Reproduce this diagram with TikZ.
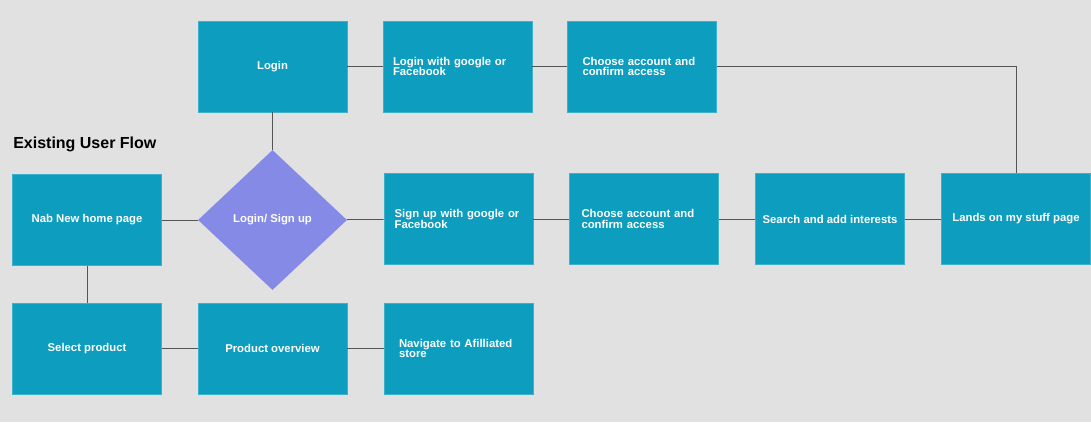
\documentclass[tikz,border=0pt]{standalone}
\usepackage{fontspec}
\setmainfont{Liberation Sans}
\usetikzlibrary{shapes.geometric, positioning}

\definecolor{pagebg}{HTML}{E1E1E1}
\definecolor{stepfill}{HTML}{0C9DBF}
\definecolor{stepedge}{HTML}{3DB0CC}
\definecolor{choicefill}{HTML}{858AE7}
\definecolor{linkgray}{HTML}{555555}

\begin{document}
\begin{tikzpicture}[
    x=0.75pt, y=-0.75pt, % one unit = one pixel of the reference
    stepbox/.style={draw=stepedge, line width=0.5pt, fill=stepfill, text=white,
        font=\bfseries\fontsize{8.5}{8}\selectfont,
        minimum width=111.75pt, minimum height=68.25pt, inner sep=0pt}, % plain box
    leftbox/.style={stepbox, align=left, text width=89.25pt, inner xsep=11.25pt}, % box with left text
    choice/.style={diamond, fill=choicefill, text=white, inner sep=0pt,
        font=\bfseries\fontsize{8.5}{8}\selectfont,
        minimum width=111.75pt, minimum height=105pt}, % decision
    link/.style={draw=linkgray, line width=0.6pt} % connector
]

    % Background and bounds
    \fill[pagebg] (0,0) rectangle (1091,422);
    \useasboundingbox (0,0) rectangle (1091,422);

    % Title
    \node[anchor=west, inner sep=0pt, font=\bfseries\fontsize{12}{14}\selectfont] (title) at (13,144) {Existing User Flow};

    % Top row (login)
    \node[stepbox] (login) at (272.5,66.5) {Login};
    \node[leftbox, inner xsep=7.5pt, text width=96.75pt] (logingoogle) at (457.5,66.5) {Login with google or\\Facebook};
    \node[leftbox] (chooselogin) at (642,66.5) {Choose account and\\confirm access};

    % Middle row (sign up)
    \node[stepbox] (home) at (87,220) {Nab New home page};
    \node[choice] (loginsignup) at (272.5,220) {Login/ Sign up};
    \node[leftbox, inner xsep=8pt, text width=95.75pt] (signupgoogle) at (458.5,219) {Sign up with google or\\Facebook};
    \node[leftbox, inner xsep=9pt, text width=93.75pt] (choosesignup) at (644,219) {Choose account and\\confirm access};
    \node[stepbox] (interests) at (830,219) {Search and add interests};
    \node[stepbox] (mystuff) at (1016,219) {Lands on my stuff page};

    % Bottom row (product)
    \node[stepbox] (select) at (87,348.5) {Select product};
    \node[stepbox] (overview) at (272.5,348.5) {Product overview};
    \node[leftbox] (navigate) at (458.5,348.5) {Navigate to Afilliated\\store};

    % Connectors
    \draw[link] (login) -- (logingoogle);
    \draw[link] (logingoogle) -- (chooselogin);
    \draw[link] (chooselogin.east) -| (mystuff.north);
    \draw[link] (login) -- (loginsignup);
    \draw[link] (home) -- (loginsignup);
    \draw[link] (loginsignup) -- (signupgoogle);
    \draw[link] (signupgoogle) -- (choosesignup);
    \draw[link] (choosesignup) -- (interests);
    \draw[link] (interests) -- (mystuff);
    \draw[link] (home) -- (select);
    \draw[link] (select) -- (overview);
    \draw[link] (overview) -- (navigate);

\end{tikzpicture}
\end{document}
